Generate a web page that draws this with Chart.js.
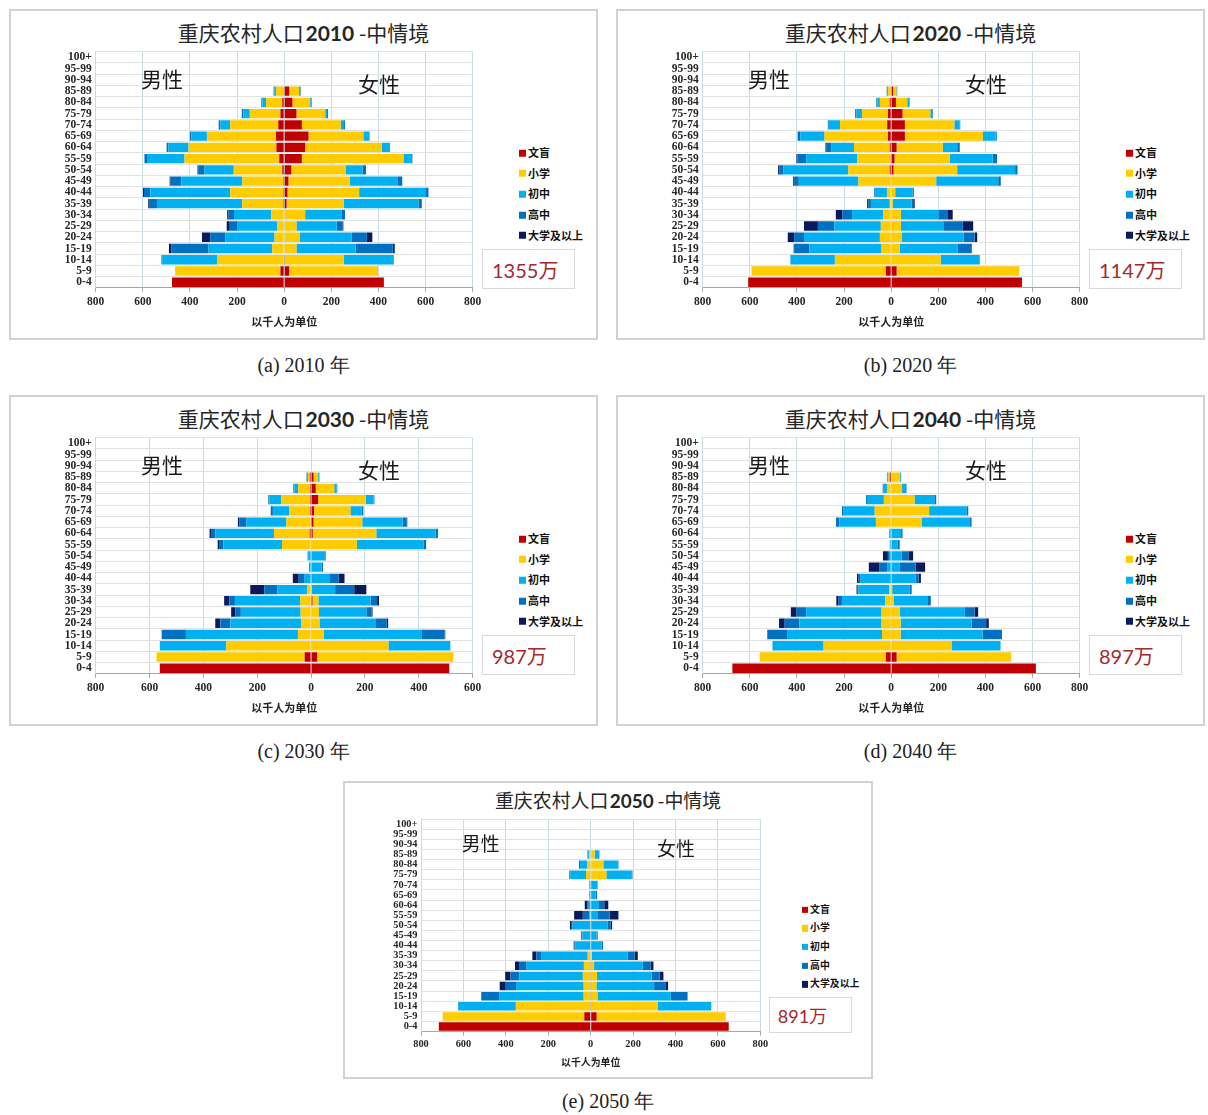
<!DOCTYPE html>
<html lang="zh">
<head>
<meta charset="utf-8">
<title>重庆农村人口金字塔 2010-2050 中情境</title>
<script src="https://cdn.jsdelivr.net/npm/chart.js@4.4.1/dist/chart.umd.min.js"></script>
<style>
html,body{margin:0;padding:0;background:#fff;}
body{position:relative;width:1208px;height:1115px;overflow:hidden;font-family:"Noto Sans CJK SC",sans-serif;}
.panel{position:absolute;background:#fff;box-shadow:inset 0 0 0 2px #d2d2d2;}
.panel canvas{position:absolute;}
.ttl{position:absolute;left:0;right:0;text-align:center;white-space:nowrap;color:#262626;line-height:1;transform:translateY(-50%);}
.ttl b{font-family:"Lato","Liberation Sans",sans-serif;font-weight:700;margin-left:0.08em;}
.sex{position:absolute;color:#1a1a1a;line-height:1;white-space:nowrap;transform:translateY(-50%);}
.lg{position:absolute;white-space:nowrap;font-weight:700;color:#111;line-height:1;transform:translateY(-50%);}
.lg i{display:inline-block;vertical-align:middle;}
.lg span{vertical-align:middle;}
.tot{position:absolute;box-sizing:border-box;border:1px solid #d9d9d9;color:#a5282c;font-family:"Lato","Liberation Sans","Noto Sans CJK SC",sans-serif;display:flex;align-items:center;background:#fff;}
.cap{position:absolute;text-align:center;font-family:"Liberation Serif","Times New Roman",serif;color:#222;white-space:nowrap;line-height:1;transform:translateY(-50%);}
</style>
</head>
<body>
<script>
// Age groups, bottom (0-4) to top (100+)
const ageGroups = ['0-4','5-9','10-14','15-19','20-24','25-29','30-34','35-39','40-44','45-49',
  '50-54','55-59','60-64','65-69','70-74','75-79','80-84','85-89','90-94','95-99','100+'];
const eduLevels = ['文盲','小学','初中','高中','大学及以上'];
const eduColors = ['#C00000','#FFCC00','#00B0F0','#0070C0','#0A1B5C'];

const years = ['2010','2020','2030','2040','2050'];
const totals = ['1355万','1147万','987万','897万','891万'];
const captions = ['(a) 2010 年','(b) 2020 年','(c) 2030 年','(d) 2040 年','(e) 2050 年'];
const xTickValues = [
  [-800,-600,-400,-200,0,200,400,600,800],
  [-800,-600,-400,-200,0,200,400,600,800],
  [-800,-600,-400,-200,0,200,400,600],
  [-800,-600,-400,-200,0,200,400,600,800],
  [-800,-600,-400,-200,0,200,400,600,800]
];

// Thousands of people per age group; each row: 文盲, 小学, 初中, 高中, 大学及以上
const male2010 = [
  [476,0,0,0,0],[16,443,2,0,0],[2,283,233,3,0],[0,51,270,158,10],[0,41,209,64,35],
  [0,30,170,31,13],[0,55,158,23,6],[4,174,362,31,6],[4,225,339,27,4],[4,174,259,45,4],
  [8,206,124,27,3],[21,402,156,14,0],[33,373,85,8,0],[35,293,66,6,0],[25,204,42,7,0],
  [16,130,27,7,0],[8,69,16,4,0],[3,32,7,3,0],[0,0,0,0,0],[0,0,0,0,0],[0,0,0,0,0]
];
const female2010 = [
  [423,0,0,0,0],[21,374,2,0,0],[3,249,212,2,0],[0,52,252,157,8],[0,65,222,64,23],
  [0,52,171,24,4],[0,89,156,13,0],[10,242,318,14,0],[14,304,284,10,0],[18,260,202,21,0],
  [30,232,71,14,0],[75,431,33,5,0],[89,325,31,3,0],[103,233,24,2,0],[75,165,14,4,0],
  [52,122,8,4,0],[35,75,6,2,0],[21,42,5,2,0],[0,0,0,0,0],[0,0,0,0,0],[0,0,0,0,0]
];
const male2020 = [
  [607,0,0,0,0],[23,570,0,0,0],[0,239,189,0,0],[0,41,306,65,2],[2,46,322,42,27],
  [0,44,197,70,59],[0,34,132,42,27],[0,6,80,10,6],[0,18,48,6,0],[2,137,253,20,4],
  [6,176,275,17,6],[3,141,217,37,4],[6,152,97,21,3],[14,269,103,11,0],[17,200,48,4,0],
  [14,110,23,6,0],[6,42,11,4,0],[0,13,4,2,0],[0,0,0,0,0],[0,0,0,0,0],[0,0,0,0,0]
];
const female2020 = [
  [555,0,0,0,0],[23,521,0,0,0],[0,210,166,0,0],[0,37,246,58,2],[2,44,262,46,11],
  [0,41,180,83,44],[0,41,159,38,23],[0,6,80,11,3],[0,17,73,6,0],[2,189,263,11,0],
  [10,270,246,10,0],[14,234,183,18,0],[23,196,61,11,0],[58,331,54,5,0],[58,210,22,3,0],
  [48,118,8,3,0],[20,48,8,2,0],[8,14,4,0,0],[0,0,0,0,0],[0,0,0,0,0],[0,0,0,0,0]
];
const male2030 = [
  [562,0,0,0,0],[24,550,0,0,0],[2,313,247,0,0],[0,49,416,90,0],[0,36,264,37,19],
  [0,39,222,21,15],[0,40,243,21,19],[0,15,110,49,52],[0,0,24,22,22],[0,0,5,3,0],
  [0,0,11,2,0],[2,106,218,16,5],[5,133,217,17,5],[2,90,148,27,5],[4,78,60,8,0],
  [4,107,44,4,0],[4,44,14,4,0],[5,6,4,2,0],[0,0,0,0,0],[0,0,0,0,0],[0,0,0,0,0]
];
const female2030 = [
  [513,0,0,0,0],[22,506,0,0,0],[2,285,230,0,0],[0,47,362,87,2],[0,31,210,40,5],
  [0,29,176,19,4],[5,22,194,24,7],[0,3,86,71,45],[0,0,70,32,22],[0,0,39,5,0],
  [0,0,49,5,0],[2,168,247,10,0],[6,236,220,9,0],[9,181,150,15,2],[11,135,42,6,0],
  [26,177,29,3,0],[17,69,9,2,0],[9,17,5,0,0],[0,0,0,0,0],[0,0,0,0,0],[0,0,0,0,0]
];
const male2040 = [
  [674,0,0,0,0],[23,535,0,0,0],[0,287,217,0,0],[2,37,403,84,0],[2,39,349,62,24],
  [2,39,320,41,24],[0,25,184,14,10],[0,8,131,6,2],[0,0,132,6,7],[0,0,15,34,46],
  [0,0,6,8,21],[0,0,4,2,0],[0,0,7,2,0],[0,65,155,14,0],[0,70,132,7,0],
  [0,31,72,4,0],[0,18,14,4,0],[6,6,4,2,0],[0,0,0,0,0],[0,0,0,0,0],[0,0,0,0,0]
];
const female2040 = [
  [614,0,0,0,0],[23,486,0,0,0],[0,258,206,0,0],[2,38,348,82,0],[2,38,301,62,11],
  [2,35,276,41,15],[0,11,142,15,0],[0,4,75,8,0],[0,0,103,13,10],[0,0,37,66,41],
  [0,0,45,28,20],[0,0,28,8,0],[0,0,42,6,0],[0,130,204,7,0],[0,161,160,6,0],
  [0,99,84,8,0],[0,46,17,2,0],[2,34,4,2,0],[0,0,0,0,0],[0,0,0,0,0],[0,0,0,0,0]
];
const male2050 = [
  [716,0,0,0,0],[30,668,0,0,0],[2,351,272,0,0],[2,31,396,87,0],[2,31,319,52,25],
  [2,35,300,41,25],[2,30,270,36,19],[0,14,220,22,19],[0,0,71,6,3],[0,0,39,5,2],
  [0,0,85,8,5],[0,0,6,31,41],[0,0,9,6,13],[0,0,5,2,0],[0,0,5,2,0],
  [0,22,74,5,0],[0,17,33,5,0],[0,6,6,3,0],[0,0,0,0,0],[0,0,0,0,0],[0,0,0,0,0]
];
const female2050 = [
  [651,0,0,0,0],[28,609,0,0,0],[2,315,252,0,0],[2,30,346,79,0],[2,25,272,53,13],
  [2,28,258,38,17],[2,14,230,36,14],[0,5,170,33,14],[0,0,52,6,0],[0,0,28,5,0],
  [0,0,79,16,6],[0,0,31,58,42],[0,0,39,25,19],[0,0,24,6,0],[0,0,31,2,0],
  [0,74,118,5,0],[0,60,66,5,0],[0,19,20,2,0],[0,0,0,0,0],[0,0,0,0,0],[0,0,0,0,0]
];

const maleByYear = [male2010, male2020, male2030, male2040, male2050];
const femaleByYear = [female2010, female2020, female2030, female2040, female2050];

// Panel frames on the page (s = scale of the whole panel)
const panelBoxes = [
  {x:9, y:9, s:1}, {x:616, y:9, s:1},
  {x:9, y:395, s:1}, {x:616, y:395, s:1},
  {x:343, y:781, s:0.9}
];

function el(tag, cls, parent) {
  const e = document.createElement(tag);
  if (cls) e.className = cls;
  parent.appendChild(e);
  return e;
}

function buildPanel(i) {
  const {x, y, s} = panelBoxes[i];
  const pw = 589 * s, ph = 331 * s;
  const p = el('div', 'panel', document.body);
  Object.assign(p.style, {left: x + 'px', top: y + 'px', width: pw + 'px', height: ph + 'px'});

  const t = el('div', 'ttl', p);
  t.style.top = (22.5 * s) + 'px';
  t.style.fontSize = (21 * s) + 'px';
  t.innerHTML = '重庆农村人口<b>' + years[i] + '</b> -中情境';

  // chart canvas
  const cl = 40 * s, ct = 36 * s;
  const cw = Math.round(445 * s), ch = Math.round(292 * s);
  const cv = el('canvas', '', p);
  cv.width = cw; cv.height = ch;
  Object.assign(cv.style, {left: cl + 'px', top: ct + 'px', width: cw + 'px', height: ch + 'px'});

  const yAxisW = 86.7 * s - cl;
  const padR = cw - (463.7 * s - cl);
  const padT = 42.7 * s - ct;
  const plotBottom = 278.9 * s - ct;
  const xAxisH = 45 * s;
  const padB = ch - plotBottom - xAxisH;
  const tickFont = 11.5 * s;
  const tickPad = (293 - 278.9) * s - tickFont * 0.6 - 4;
  const titleFont = 11 * s;
  const titlePadB = (ch - padB) - (313 * s - ct) - titleFont * 0.6;

  const male = maleByYear[i], female = femaleByYear[i];
  const datasets = [];
  eduLevels.forEach((lv, k) => {
    datasets.push({label: '男性 ' + lv, data: male.map(r => -r[k]), backgroundColor: eduColors[k], stack: 'pop'});
  });
  eduLevels.forEach((lv, k) => {
    datasets.push({label: '女性 ' + lv, data: female.map(r => r[k]), backgroundColor: eduColors[k], stack: 'pop'});
  });

  const ticksX = xTickValues[i];
  new Chart(cv, {
    type: 'bar',
    data: {labels: ageGroups, datasets},
    options: {
      indexAxis: 'y',
      responsive: false,
      animation: false,
      devicePixelRatio: 1,
      layout: {padding: {left: 0, right: padR, top: padT, bottom: padB}},
      plugins: {legend: {display: false}, tooltip: {enabled: false}, title: {display: false}},
      datasets: {bar: {barPercentage: 0.83, categoryPercentage: 1, borderWidth: 0}},
      scales: {
        x: {
          type: 'linear', stacked: true,
          min: ticksX[0], max: ticksX[ticksX.length - 1],
          afterBuildTicks: sc => { sc.ticks = ticksX.map(v => ({value: v})); },
          ticks: {
            callback: v => String(Math.abs(v)),
            font: {family: '"Liberation Serif", serif', size: tickFont, weight: 'bold', lineHeight: 1.2},
            color: '#262626', padding: tickPad, maxRotation: 0, autoSkip: false
          },
          grid: {color: '#C8DCE4', lineWidth: 1, drawTicks: true, tickLength: 4, tickColor: '#A6A6A6'},
          border: {display: true, color: '#A6A6A6', width: 1},
          title: {
            display: true, text: '以千人为单位', color: '#222',
            font: {family: '"Noto Sans CJK SC", sans-serif', size: titleFont, weight: 'bold', lineHeight: 1.2},
            padding: {top: 0, bottom: titlePadB}
          },
          afterFit: sc => { sc.height = xAxisH; }
        },
        y: {
          type: 'category', stacked: true, reverse: true,
          ticks: {
            font: {family: '"Liberation Serif", serif', size: tickFont, weight: 'bold', lineHeight: 1.2},
            color: '#262626', padding: 4 * s, autoSkip: false
          },
          grid: {color: '#E3E3E3', lineWidth: 1, drawTicks: false},
          border: {display: true, color: '#C8DCE4', width: 1},
          afterFit: sc => { sc.width = yAxisW; sc.paddingTop = 0; sc.paddingBottom = 0; }
        }
      }
    }
  });

  // sex labels inside the plot
  const m = el('div', 'sex', p);
  Object.assign(m.style, {left: (132 * s) + 'px', top: (69 * s) + 'px', fontSize: (21 * s) + 'px'});
  m.textContent = '男性';
  const f = el('div', 'sex', p);
  Object.assign(f.style, {left: (349 * s) + 'px', top: (74 * s) + 'px', fontSize: (21 * s) + 'px'});
  f.textContent = '女性';

  // legend
  eduLevels.forEach((lv, k) => {
    const item = el('div', 'lg', p);
    Object.assign(item.style, {left: (510 * s) + 'px', top: ((143 + 20.7 * k) * s) + 'px', fontSize: (11 * s) + 'px'});
    const sq = el('i', '', item);
    Object.assign(sq.style, {width: (7 * s) + 'px', height: (7 * s) + 'px', background: eduColors[k], marginRight: (2 * s) + 'px'});
    const tx = el('span', '', item);
    tx.textContent = lv;
  });

  // total population box
  const tb = el('div', 'tot', p);
  Object.assign(tb.style, {left: (473 * s) + 'px', top: (240 * s) + 'px', width: (93 * s) + 'px', height: (40 * s) + 'px',
    fontSize: (20 * s) + 'px', paddingLeft: (9 * s) + 'px'});
  tb.textContent = totals[i];

  // caption under the panel
  const c = el('div', 'cap', document.body);
  Object.assign(c.style, {left: x + 'px', width: pw + 'px', top: (y + ph + 25 * s) + 'px', fontSize: '20px'});
  c.textContent = captions[i];
}

for (let i = 0; i < panelBoxes.length; i++) buildPanel(i);
</script>
</body>
</html>
